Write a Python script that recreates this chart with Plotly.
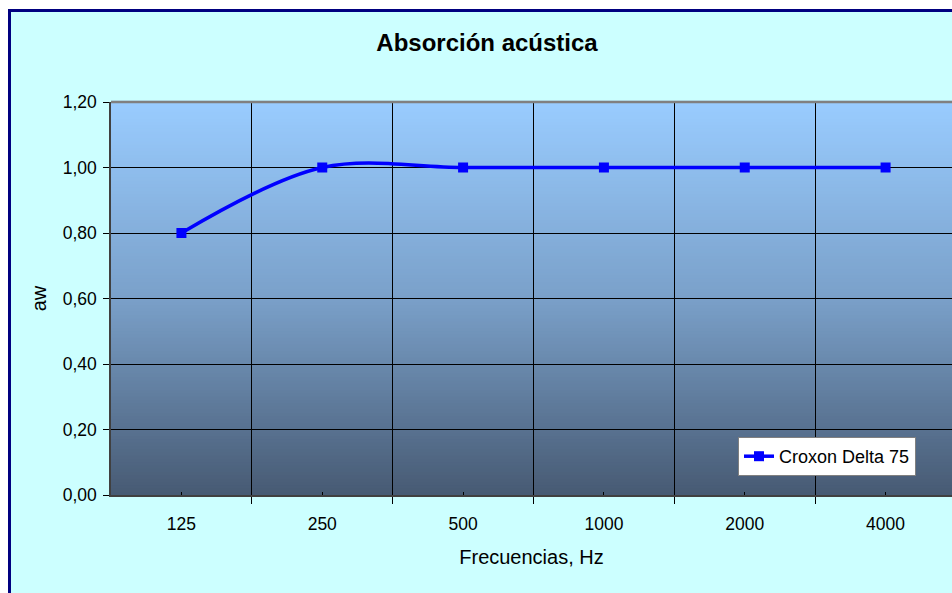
import plotly.graph_objects as go

categories = ["125", "250", "500", "1000", "2000", "4000"]
values = [0.80, 1.00, 1.00, 1.00, 1.00, 1.00]
series_name = "Croxon Delta 75"
y_ticks = [0.0, 0.2, 0.4, 0.6, 0.8, 1.0, 1.2]

W, H = 952, 593
L, T, B = 111, 102, 495
R = W
pw, ph = R - L, B - T


def px2x(px):
    return (px - L) / pw


def px2y(py):
    return (B - py) / ph


def lerp(c1, c2, t):
    return tuple(round(a + (b - a) * t) for a, b in zip(c1, c2))


top_c = (153, 204, 255)
mid_c = (122, 160, 201)
bot_c = (71, 90, 115)

shapes = []
# outer chart area (cyan, navy border)
shapes.append(dict(type="rect", xref="paper", yref="paper",
                   x0=px2x(9.5), x1=px2x(975), y0=px2y(620), y1=px2y(10.5),
                   fillcolor="#CCFFFF", line=dict(color="#000080", width=3),
                   layer="below"))
# gradient plot background
N = 120
for i in range(N):
    t = (i + 0.5) / N  # 0 bottom -> 1 top
    if t < 0.5:
        c = lerp(bot_c, mid_c, t / 0.5)
    else:
        c = lerp(mid_c, top_c, (t - 0.5) / 0.5)
    shapes.append(dict(type="rect", xref="paper", yref="paper",
                       x0=0, x1=1.01, y0=i / N, y1=(i + 1) / N + 0.003,
                       fillcolor="rgb(%d,%d,%d)" % c, line=dict(width=0),
                       layer="below"))

x_idx = list(range(len(categories)))

fig = go.Figure()
fig.add_trace(go.Scatter(
    x=x_idx, y=values, name=series_name, mode="lines+markers",
    line=dict(color="#0000FF", width=3.5, shape="spline", smoothing=1),
    marker=dict(symbol="square", size=10, color="#0000FF",
                line=dict(width=0)),
    showlegend=True,
))

fig.update_layout(
    width=W, height=H,
    margin=dict(l=L, r=0, t=T, b=H - B, pad=0),
    paper_bgcolor="white",
    plot_bgcolor="rgba(0,0,0,0)",
    separators=",.",
    font=dict(family="Liberation Sans, Arial, sans-serif", size=17.5, color="black"),
    title=dict(text="<b>Absorción acústica</b>", xref="paper", x=px2x(487),
               xanchor="center", yref="container", y=1 - 43 / H, yanchor="middle",
               font=dict(size=24, color="black")),
    shapes=shapes,
    showlegend=True,
    legend=dict(x=px2x(738), y=px2y(437), xanchor="left", yanchor="top",
                bgcolor="white", bordercolor="#808080", borderwidth=1,
                font=dict(size=18), itemwidth=30,
                tracegroupgap=0),
    xaxis=dict(
        range=[-0.5, -0.5 + 6 * pw / (956 - L)],
        tickmode="array", tickvals=x_idx, ticktext=categories,
        showgrid=False, zeroline=False,
        ticks="inside", ticklen=3, tickcolor="black", tickwidth=1,
        showline=True, linecolor="#404040", linewidth=1.5,
        minor=dict(tickmode="array", tickvals=[0.5, 1.5, 2.5, 3.5, 4.5],
                   showgrid=True, gridcolor="black", gridwidth=1,
                   ticks="outside", ticklen=7, tickcolor="black", tickwidth=1),
        ticklabelstandoff=12,
        title=dict(text="Frecuencias, Hz", standoff=17, font=dict(size=20)),
        tickfont=dict(size=17.5),
    ),
    yaxis=dict(
        range=[0, 1.2], tickmode="array", tickvals=y_ticks,
        tickformat=".2f",
        showgrid=True, gridcolor="black", gridwidth=1,
        zeroline=False,
        ticks="outside", ticklen=6, tickcolor="black", tickwidth=1,
        showline=True, linecolor="#404040", linewidth=1.5, mirror=False,
        ticklabelstandoff=3,
        title=dict(text="aw", standoff=11, font=dict(size=20)),
        tickfont=dict(size=17.5),
    ),
)
# top border of plot area (gray)
fig.add_shape(type="line", xref="paper", yref="paper", x0=0, x1=1.01, y0=1, y1=1,
              line=dict(color="#808080", width=2.5))

fig.write_html("out.html", config={"displayModeBar": False},
               post_script="document.body.style.margin='0';")
